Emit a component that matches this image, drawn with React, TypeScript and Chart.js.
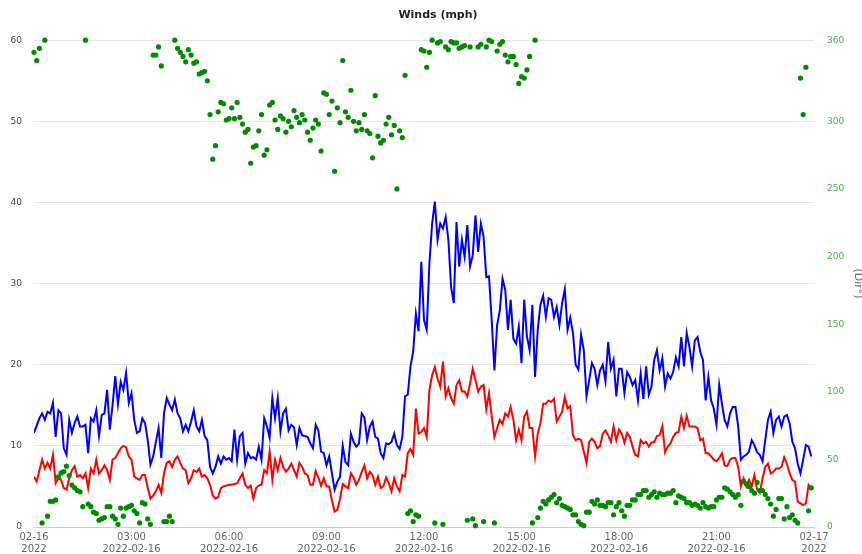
import React, { useEffect, useRef } from "react";
import { Chart, registerables } from "chart.js";

Chart.register(...registerables);

// samples every 5 minutes starting 2022-02-16 00:00
const STEP_MINUTES = 5;
const DAY = "2022-02-16";
const DAY_SHORT = "02-16";
const NEXT_DAY_SHORT = "02-17";
const YEAR = "2022";
const X_TICK_HOURS = [0, 3, 6, 9, 12, 15, 18, 21, 24];
const DIR_TICKS = [0, 50, 100, 150, 200, 250, 300, 360];
const SPEED_TICKS = [0, 10, 20, 30, 40, 50, 60];

// wind gust (mph)
const gust = [
  11.6, 12.5, 13.4, 14.0, 13.2, 14.2, 14.0, 15.3, 11.1, 14.4,
  14.0, 9.7, 8.9, 13.2, 11.6, 12.8, 13.6, 12.4, 12.4, 12.6,
  9.1, 13.4, 13.0, 14.4, 11.2, 13.8, 14.0, 16.9, 12.0, 15.0,
  18.6, 15.1, 17.9, 16.9, 19.0, 15.3, 16.5, 13.2, 11.6, 11.8,
  13.4, 12.8, 10.7, 7.7, 8.7, 10.5, 12.2, 8.5, 14.0, 15.9,
  15.1, 14.4, 15.7, 14.0, 13.4, 11.8, 12.6, 11.8, 13.0, 14.4,
  12.4, 11.8, 13.2, 11.2, 10.7, 7.4, 6.6, 7.4, 8.7, 7.8,
  8.7, 8.3, 8.5, 8.1, 12.0, 8.3, 11.2, 11.6, 7.8, 9.1,
  8.5, 8.6, 8.3, 9.9, 8.3, 13.4, 12.4, 11.0, 15.9, 13.4,
  15.9, 11.8, 14.0, 14.6, 11.9, 12.6, 12.3, 10.1, 12.2, 11.3,
  11.2, 11.1, 10.3, 9.7, 12.6, 11.9, 9.3, 9.1, 7.6, 8.7,
  6.6, 4.6, 5.6, 6.2, 10.0, 8.0, 7.6, 11.5, 10.5, 9.9,
  10.3, 14.0, 13.5, 10.7, 12.4, 13.0, 11.1, 10.9, 9.1, 8.5,
  10.3, 10.2, 10.5, 11.5, 10.1, 9.6, 11.1, 16.1, 16.3, 19.8,
  21.6, 26.3, 24.1, 32.7, 25.5, 24.3, 32.5, 37.4, 40.1, 35.4,
  37.4, 36.8, 38.2, 35.4, 29.6, 27.6, 37.6, 32.1, 35.4, 33.3,
  37.2, 32.1, 33.5, 38.4, 33.9, 37.4, 35.8, 30.8, 30.9, 25.5,
  19.3, 24.9, 26.7, 30.6, 29.2, 24.3, 28.0, 23.2, 22.6, 24.7,
  20.2, 28.0, 23.5, 21.8, 27.4, 18.5, 24.3, 27.4, 28.5, 25.9,
  28.2, 28.0, 25.9, 27.1, 24.9, 27.6, 29.3, 24.3, 25.8, 23.9,
  20.0, 19.4, 23.7, 21.8, 16.1, 18.1, 20.2, 19.5, 17.5, 19.3,
  20.0, 18.0, 22.8, 19.5, 20.6, 16.1, 19.5, 19.5, 16.5, 19.1,
  18.5, 17.5, 18.1, 15.6, 18.9, 15.8, 19.8, 16.3, 17.3, 20.6,
  21.8, 19.3, 20.8, 17.3, 18.9, 18.3, 19.1, 20.9, 19.8, 23.4,
  19.8, 23.9, 22.2, 19.8, 23.0, 23.4, 21.6, 20.6, 15.6, 18.5,
  15.6, 14.6, 12.6, 17.5, 15.2, 13.2, 12.4, 14.0, 14.8, 14.8,
  12.4, 8.3, 8.7, 8.9, 9.3, 10.7, 10.1, 9.2, 8.9, 8.1,
  10.7, 13.2, 14.2, 11.6, 13.2, 13.6, 12.4, 13.6, 13.8, 12.8,
  10.5, 9.7, 7.8, 6.6, 8.3, 10.1, 9.9, 8.7,
];

// wind speed (mph)
const speed = [
  6.2, 5.6, 7.0, 8.3, 7.2, 7.9, 7.2, 8.9, 5.4, 6.0,
  5.8, 4.8, 4.6, 6.0, 7.0, 7.5, 6.2, 6.4, 6.0, 6.6,
  4.8, 7.2, 6.6, 8.3, 6.6, 7.0, 7.6, 7.0, 5.8, 8.3,
  8.5, 9.1, 9.7, 10.0, 9.8, 8.7, 8.3, 6.2, 6.0, 5.8,
  6.4, 6.4, 4.8, 3.5, 3.9, 4.4, 5.2, 4.2, 6.6, 7.9,
  8.1, 7.4, 8.3, 8.7, 7.9, 7.2, 7.0, 5.4, 6.0, 7.0,
  6.8, 7.2, 6.2, 6.4, 6.0, 5.2, 3.9, 3.5, 3.7, 4.8,
  5.0, 5.1, 5.2, 5.2, 5.3, 5.4, 6.0, 6.6, 5.2, 4.8,
  5.1, 3.5, 4.8, 5.1, 5.2, 7.0, 6.6, 9.3, 5.8, 8.3,
  7.0, 8.5, 7.4, 6.8, 7.2, 7.8, 7.0, 6.2, 7.9, 7.4,
  6.6, 6.4, 5.2, 5.2, 6.9, 6.1, 5.1, 6.0, 5.0, 5.0,
  3.3, 1.9, 2.1, 3.5, 5.3, 5.0, 4.8, 6.6, 6.1, 5.2,
  5.8, 6.8, 7.6, 6.0, 6.8, 6.4, 5.2, 6.2, 4.8, 5.0,
  6.1, 5.4, 4.4, 6.0, 5.0, 4.4, 6.4, 6.2, 9.1, 9.6,
  8.9, 14.6, 11.5, 11.7, 12.2, 11.1, 16.9, 18.7, 19.7, 18.3,
  17.3, 20.4, 16.1, 17.1, 15.9, 15.2, 17.5, 18.1, 16.7, 16.7,
  16.1, 17.7, 19.5, 18.1, 16.7, 17.3, 17.5, 14.5, 16.5, 13.6,
  11.1, 12.2, 13.2, 12.7, 14.0, 13.6, 14.8, 13.2, 10.7, 12.0,
  10.7, 13.6, 14.2, 12.2, 12.2, 8.7, 11.5, 12.8, 15.2, 15.2,
  15.6, 15.4, 15.8, 13.0, 13.6, 14.2, 16.0, 14.6, 14.9, 11.3,
  10.7, 10.9, 10.7, 9.3, 7.9, 10.5, 10.9, 10.5, 9.7, 10.0,
  11.5, 11.9, 11.3, 10.5, 12.4, 10.7, 12.0, 11.5, 10.4, 11.6,
  11.1, 9.9, 8.9, 8.7, 10.7, 10.3, 10.5, 9.9, 10.4, 10.5,
  11.2, 11.3, 12.4, 9.2, 9.9, 10.3, 11.1, 11.6, 11.7, 13.6,
  12.2, 13.7, 12.4, 12.4, 12.4, 12.2, 10.7, 10.9, 9.1, 9.1,
  8.7, 8.3, 8.1, 8.5, 9.1, 7.6, 7.5, 8.3, 8.5, 8.5,
  7.4, 5.0, 6.0, 5.0, 5.8, 5.0, 6.4, 4.6, 4.2, 6.0,
  7.4, 7.8, 6.6, 6.8, 7.2, 7.2, 7.4, 8.6, 7.8, 6.6,
  5.8, 5.6, 3.1, 2.9, 2.7, 2.9, 5.2, 4.8,
];

// wind direction (degrees)
const direction = [
  351, 345, 354, 3, 360, 8, 19, 19, 20, 37,
  40, 41, 45, 38, 31, 29, 27, 26, 15, 360,
  17, 15, 11, 10, 5, 6, 7, 15, 15, 8,
  6, 2, 14, 8, 14, 15, 16, 12, 10, 3,
  18, 17, 6, 2, 349, 349, 355, 341, 4, 4,
  8, 4, 360, 354, 351, 348, 344, 353, 349, 343,
  344, 335, 336, 337, 330, 305, 272, 282, 307, 314,
  313, 301, 302, 310, 302, 314, 303, 298, 292, 294,
  269, 281, 282, 293, 305, 275, 279, 312, 314, 301,
  294, 304, 302, 292, 300, 296, 308, 303, 299, 305,
  301, 292, 286, 295, 301, 298, 278, 321, 320, 305,
  315, 263, 310, 299, 345, 307, 303, 323, 300, 293,
  299, 294, 305, 293, 291, 273, 319, 289, 284, 286,
  298, 303, 290, 297, 250, 293, 288, 334, 10, 12,
  4, 9, 8, 353, 352, 340, 351, 360, 3, 358,
  359, 2, 355, 353, 359, 358, 358, 354, 355, 356,
  5, 355, 6, 1, 355, 357, 4, 355, 360, 359,
  3, 352, 357, 359, 349, 344, 348, 348, 342, 328,
  333, 332, 338, 348, 3, 360, 7, 14, 19, 17,
  20, 22, 24, 18, 21, 16, 15, 14, 13, 9,
  9, 4, 2, 1, 11, 11, 19, 17, 20, 16,
  16, 15, 18, 18, 9, 15, 18, 12, 8, 16,
  16, 20, 20, 24, 24, 27, 27, 22, 24, 26,
  22, 25, 24, 24, 25, 25, 27, 18, 23, 22,
  21, 18, 18, 16, 17, 16, 14, 18, 15, 14,
  15, 15, 20, 22, 22, 29, 28, 26, 24, 22,
  24, 16, 34, 32, 30, 27, 25, 33, 27, 27,
  24, 21, 17, 8, 13, 21, 21, 6, 15, 7,
  9, 5, 3, 332, 305, 340, 12, 29,
];

const FONT = "'DejaVu Sans', sans-serif";

function toPoints(values: number[]) {
  return values.map((v, i) => ({ x: (i * STEP_MINUTES) / 60, y: v }));
}

function xLabel(hour: number): string[] {
  if (hour === 0) return [DAY_SHORT, YEAR];
  if (hour === 24) return [NEXT_DAY_SHORT, YEAR];
  const hh = String(hour).padStart(2, "0");
  return [hh + ":00", DAY];
}

export default function App() {
  const ref = useRef<HTMLCanvasElement>(null);

  useEffect(() => {
    if (!ref.current) return;
    const chart = new Chart(ref.current, {
      type: "line",
      data: {
        datasets: [
          {
            label: "Direction",
            data: toPoints(direction),
            yAxisID: "y1",
            showLine: false,
            clip: false,
            pointRadius: 2.6,
            pointBorderWidth: 0,
            pointBackgroundColor: "#008a00",
            backgroundColor: "#008a00",
            borderColor: "#008a00",
          },
          {
            label: "Gust",
            data: toPoints(gust),
            yAxisID: "y",
            borderColor: "#0000ff",
            backgroundColor: "#0000ff",
            borderWidth: 2,
            pointRadius: 0,
            tension: 0,
          },
          {
            label: "Speed",
            data: toPoints(speed),
            yAxisID: "y",
            borderColor: "#ff0000",
            backgroundColor: "#ff0000",
            borderWidth: 2,
            pointRadius: 0,
            tension: 0,
          },
        ],
      },
      options: {
        animation: false,
        responsive: false,
        layout: { padding: 0 },
        plugins: {
          legend: { display: false },
          tooltip: { enabled: false },
          title: {
            display: true,
            text: "Winds (mph)",
            color: "#222",
            font: { family: FONT, size: 11, weight: "bold" },
            padding: { top: 9, bottom: 18 },
          },
        },
        scales: {
          x: {
            type: "linear",
            min: 0,
            max: 24,
            afterBuildTicks: (scale: any) => {
              scale.ticks = X_TICK_HOURS.map((h) => ({ value: h }));
            },
            ticks: {
              autoSkip: false,
              maxRotation: 0,
              color: "#666",
              padding: -2,
              font: { family: FONT, size: 10 },
              callback: (v: any) => xLabel(Number(v)),
            },
            grid: { drawOnChartArea: false, drawTicks: true, tickLength: 6 },
            afterFit: (scale: any) => {
              scale.height = 29;
            },
          },
          y: {
            position: "left",
            min: 0,
            max: 60,
            afterBuildTicks: (scale: any) => {
              scale.ticks = SPEED_TICKS.map((v) => ({ value: v }));
            },
            ticks: {
              color: "#444",
              padding: 12,
              font: { family: FONT, size: 9 },
            },
            grid: { drawTicks: false },
            border: { display: false },
            afterFit: (scale: any) => {
              scale.width = 26;
            },
          },
          y1: {
            position: "right",
            min: 0,
            max: 360,
            afterBuildTicks: (scale: any) => {
              scale.ticks = DIR_TICKS.map((v) => ({ value: v }));
            },
            ticks: {
              color: "#45b045",
              padding: 13,
              font: { family: FONT, size: 9 },
            },
            grid: { drawOnChartArea: false, drawTicks: false },
            border: { display: false },
            title: {
              display: true,
              text: "(Dir°)",
              color: "#666",
              font: { family: FONT, size: 11 },
            },
            afterFit: (scale: any) => {
              scale.width = 54;
            },
          },
        },
      },
    } as any);
    return () => chart.destroy();
  }, []);

  return (
    <canvas
      ref={ref}
      width={860}
      height={556}
      style={{ position: "absolute", left: 8, top: 0, display: "block" }}
    />
  );
}
